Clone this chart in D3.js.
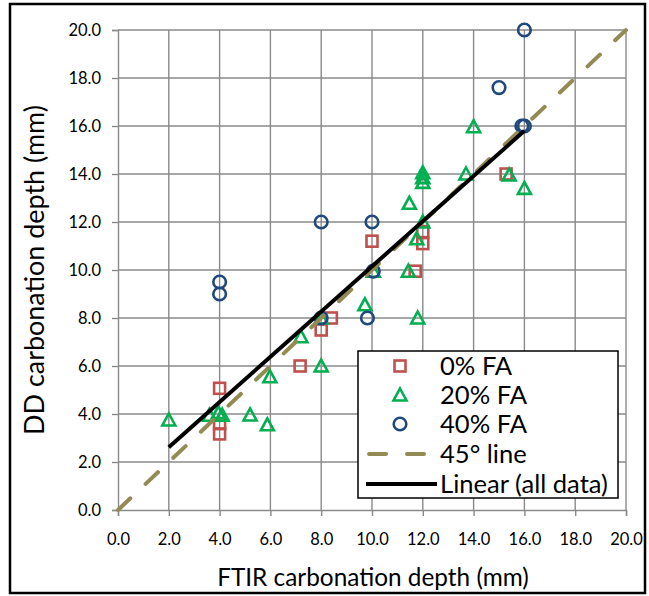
<!DOCTYPE html>
<html><head><meta charset="utf-8">
<script src="https://cdn.jsdelivr.net/npm/d3@7"></script>
<style>body{margin:0;background:#fff}svg{display:block}text{font-family:Lato,"Open Sans",sans-serif}</style>
</head><body><svg id="c" width="649" height="596"></svg>
<script>
const fa0 = [[4,5.07],[4,3.6],[4,3.17],[7.17,6.0],[8,7.5],[8.4,8.0],[10,11.2],[11.7,9.95],[12,11.6],[12,11.1],[15.28,14.0]];
const fa20 = [[2,3.75],[3.6,3.95],[3.95,4.05],[4.1,3.95],[5.2,3.96],[5.88,3.55],[5.98,5.55],[7.2,7.22],[8,6.0],[8,8.0],[9.72,8.55],[10.05,9.95],[11.43,9.95],[11.8,8.0],[11.47,12.78],[12,12.0],[11.76,11.3],[12,14.05],[12,13.85],[12,13.65],[13.7,14.0],[14,15.97],[15.4,13.96],[16,13.4]];
const fa40 = [[4,9.5],[4,9.0],[8,12],[10,12],[8,8],[9.82,8],[10.05,9.95],[15,17.6],[15.9,16],[16,16],[16,20]];
const line45 = [[0,0],[20,20]];
const trendSlope = 0.942, trendIntercept = 0.73, trendRange = [2,16];
const xTicks = [0,2,4,6,8,10,12,14,16,18,20];
const yTicks = [0,2,4,6,8,10,12,14,16,18,20];
const legendItems = ["0% FA","20% FA","40% FA","45° line","Linear (all data)"];
const xTitle = "FTIR carbonation depth (mm)", yTitle = "DD carbonation depth (mm)";

const svg = d3.select("#c");
const x = d3.scaleLinear().domain([0,20]).range([118,626]);
const y = d3.scaleLinear().domain([0,20]).range([510,30]);
const grid = "#8a8a8a";

function fit(sel, target){
  const w = sel.node().getComputedTextLength();
  const fs = parseFloat(sel.style("font-size"));
  const nf = fs*target/w;
  sel.style("font-size", nf+"px");
  return nf;
}

svg.append("rect").attr("x",10).attr("y",4).attr("width",635).attr("height",589)
  .attr("fill","none").attr("stroke","#000").attr("stroke-width",2.5);

svg.append("g").selectAll("line").data(xTicks.slice(1)).join("line")
  .attr("x1",d=>x(d)).attr("x2",d=>x(d)).attr("y1",y(0)).attr("y2",y(20))
  .attr("stroke",grid).attr("stroke-width",1.4);
svg.append("g").selectAll("line").data(yTicks.slice(1)).join("line")
  .attr("x1",x(0)).attr("x2",x(20)).attr("y1",d=>y(d)).attr("y2",d=>y(d))
  .attr("stroke",grid).attr("stroke-width",1.4);

const xAxis = svg.append("g").attr("transform",`translate(0,${y(0)})`)
  .call(d3.axisBottom(x).tickValues(xTicks).tickFormat(d3.format(".1f")).tickSize(6).tickPadding(17));
const yAxis = svg.append("g").attr("transform",`translate(${x(0)},0)`)
  .call(d3.axisLeft(y).tickValues(yTicks).tickFormat(d3.format(".1f")).tickSize(6).tickPadding(11));
[xAxis,yAxis].forEach(a=>{
  a.select(".domain").attr("stroke",grid).attr("stroke-width",1.4);
  a.selectAll(".tick line").attr("stroke",grid).attr("stroke-width",1.4);
  a.selectAll(".tick text").attr("fill","#000").style("font-size","16.5px").style("font-family","Lato");
});

const xt = svg.append("text").attr("x",373).attr("y",586).attr("text-anchor","middle")
  .style("font-size","20px").text(xTitle);
fit(xt, 312);
const yt = svg.append("text").attr("transform",`translate(44,270) rotate(-90)`).attr("text-anchor","middle")
  .style("font-size","20px").text(yTitle);
fit(yt, 330);

const red="#C0504D", green="#00B050", blue="#1F497D", olive="#948A54";
function square(g,d){return g.append("rect").attr("x",d[0]-5.5).attr("y",d[1]-5.5).attr("width",11).attr("height",11)
  .attr("fill","none").attr("stroke",red).attr("stroke-width",2.6);}
function tri(g,d){return g.append("path").attr("d",`M${d[0]},${d[1]-6.5}L${d[0]+6.5},${d[1]+5.5}L${d[0]-6.5},${d[1]+5.5}Z`)
  .attr("fill","none").attr("stroke",green).attr("stroke-width",2.6);}
function circ(g,d){return g.append("circle").attr("cx",d[0]).attr("cy",d[1]).attr("r",6.3)
  .attr("fill","none").attr("stroke",blue).attr("stroke-width",2.6);}

const pts = svg.append("g");
fa0.forEach(d=>square(pts,[x(d[0]),y(d[1])]));
fa20.forEach(d=>tri(pts,[x(d[0]),y(d[1])]));
fa40.forEach(d=>circ(pts,[x(d[0]),y(d[1])]));

svg.append("path").datum(line45).attr("d",d3.line().x(d=>x(d[0])).y(d=>y(d[1])))
  .attr("stroke",olive).attr("stroke-width",4).attr("fill","none")
  .attr("stroke-dasharray","17,21").attr("stroke-linecap","round");
const trend = trendRange.map(v=>[v, trendSlope*v+trendIntercept]);
svg.append("path").datum(trend).attr("d",d3.line().x(d=>x(d[0])).y(d=>y(d[1])))
  .attr("stroke","#000").attr("stroke-width",4).attr("fill","none");

// legend
const lg = svg.append("g");
lg.append("rect").attr("x",358).attr("y",351).attr("width",260).attr("height",147)
  .attr("fill","#fff").attr("stroke","#000").attr("stroke-width",1.5);
const rowY = [366,395,424,454,484];
const lt = legendItems.map((t,i)=>lg.append("text").attr("x",440).attr("y",rowY[i]).attr("dy","0.36em")
  .style("font-size","20px").text(t));
const lfs = fit(lt[4], 168);
lt.forEach(s=>s.style("font-size", lfs+"px"));
square(lg,[400,rowY[0]]);
tri(lg,[400,rowY[1]]);
circ(lg,[400,rowY[2]]);
lg.append("line").attr("x1",369).attr("x2",426).attr("y1",rowY[3]).attr("y2",rowY[3])
  .attr("stroke",olive).attr("stroke-width",4).attr("stroke-dasharray","17,21").attr("stroke-linecap","round");
lg.append("line").attr("x1",366).attr("x2",437).attr("y1",rowY[4]).attr("y2",rowY[4])
  .attr("stroke","#000").attr("stroke-width",4);
</script></body></html>
